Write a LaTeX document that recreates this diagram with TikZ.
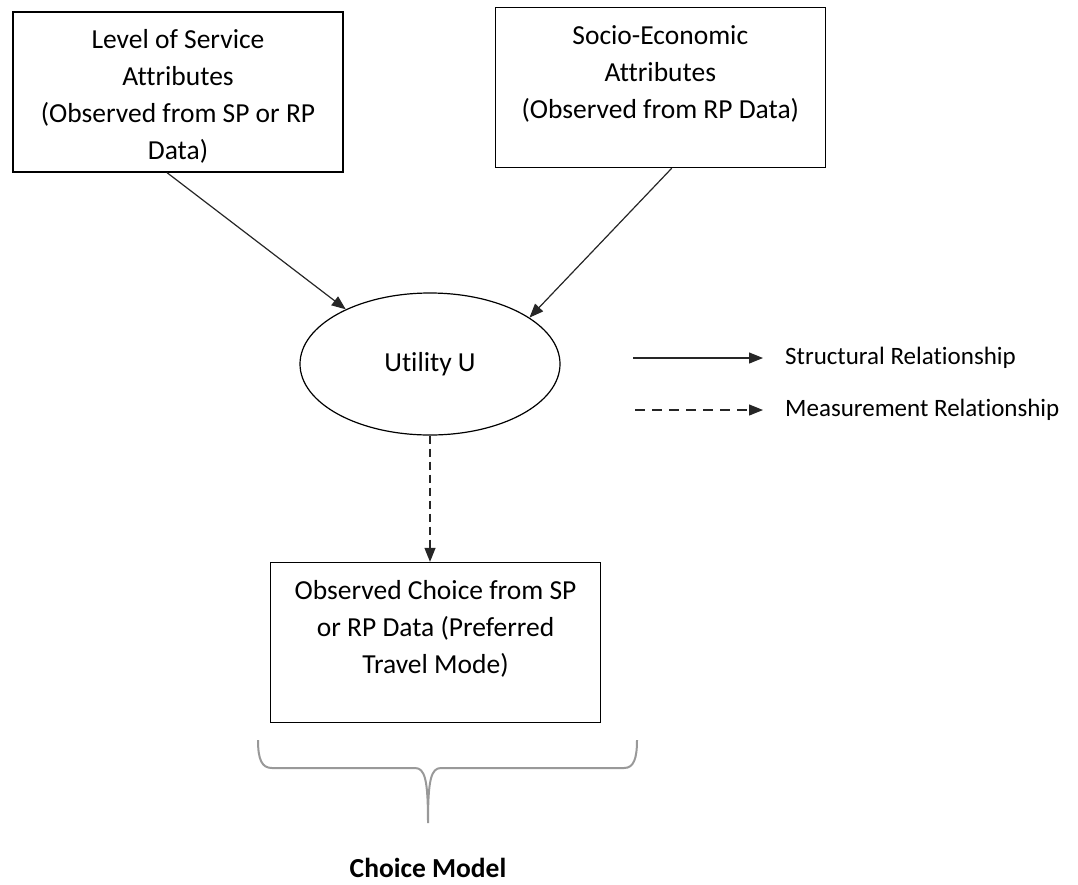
\documentclass[tikz,border=0pt]{standalone}
\usepackage{fontspec}
\setmainfont[Ligatures=NoCommon]{Carlito}
\usetikzlibrary{positioning,shapes.geometric,arrows.meta}

\newcommand{\toptext}[1]{\parbox[c][160pt][t]{330pt}{\centering\vspace*{11pt}\strut #1}}

\begin{document}
\begin{tikzpicture}[
    x=1pt, y=-1pt,
    box/.style={rectangle, draw=black, line width=1.3pt, inner sep=0pt,
                minimum width=330pt, minimum height=160pt,
                font=\fontsize{27.5}{37}\selectfont},
    util/.style={ellipse, draw=black, line width=1.2pt, inner sep=0pt,
                 minimum width=260pt, minimum height=142pt,
                 font=\fontsize{27.5}{37}\selectfont},
    legtext/.style={inner sep=0pt, font=\fontsize{25}{30}\selectfont},
    arrow/.style={-{Triangle[length=14pt, width=11pt]}, line width=1.2pt, black!85}
]
\useasboundingbox (0,0) rectangle (1078,884);

\node (los) [box] at (178,92) {\toptext{Level of Service\\Attributes\\(Observed from SP or RP\\Data)}};
\node (soc) [box, right=151pt of los, yshift=4.5pt] {\toptext{Socio-Economic\\Attributes\\(Observed from RP Data)}};
\node (utl) [util] at (430,364) {\raisebox{5pt}{Utility U}};
\node (obs) [box] at (435.5,642.5) {\toptext{Observed Choice from SP\\or RP Data (Preferred\\Travel Mode)}};

\draw [arrow] ([xshift=-11pt]los.south) -- (utl.147);
\draw [arrow] ([xshift=11.5pt]soc.south) -- (utl.25);
\draw [arrow, dash pattern=on 8pt off 5pt] (utl.south) -- (utl.south |- obs.north);

% legend
\coordinate (lss) at (633,358);
\coordinate (lse) at (763,358);
\node (lstr) [legtext, right=22pt of lse] {Structural Relationship};
\coordinate (lms) at (635,410);
\coordinate (lme) at (763,410);
\node (lmea) [legtext, right=22pt of lme] {Measurement Relationship};
\draw [arrow] (lss) -- (lse);
\draw [arrow, dash pattern=on 10pt off 7pt] (lms) -- (lme);

% brace under the choice box
\draw [gray!80, line width=2pt]
    (258,740) .. controls (258,760) and (262,768) .. (272,768) -- (415,768)
    .. controls (425,768) and (428,780) .. (428,823)
    .. controls (428,780) and (431,768) .. (441,768) -- (624,768)
    .. controls (634,768) and (637,758) .. (637,740);
\node (cm) [font=\fontsize{27.5}{37}\selectfont\bfseries] at (428,868) {Choice Model};

\end{tikzpicture}
\end{document}
